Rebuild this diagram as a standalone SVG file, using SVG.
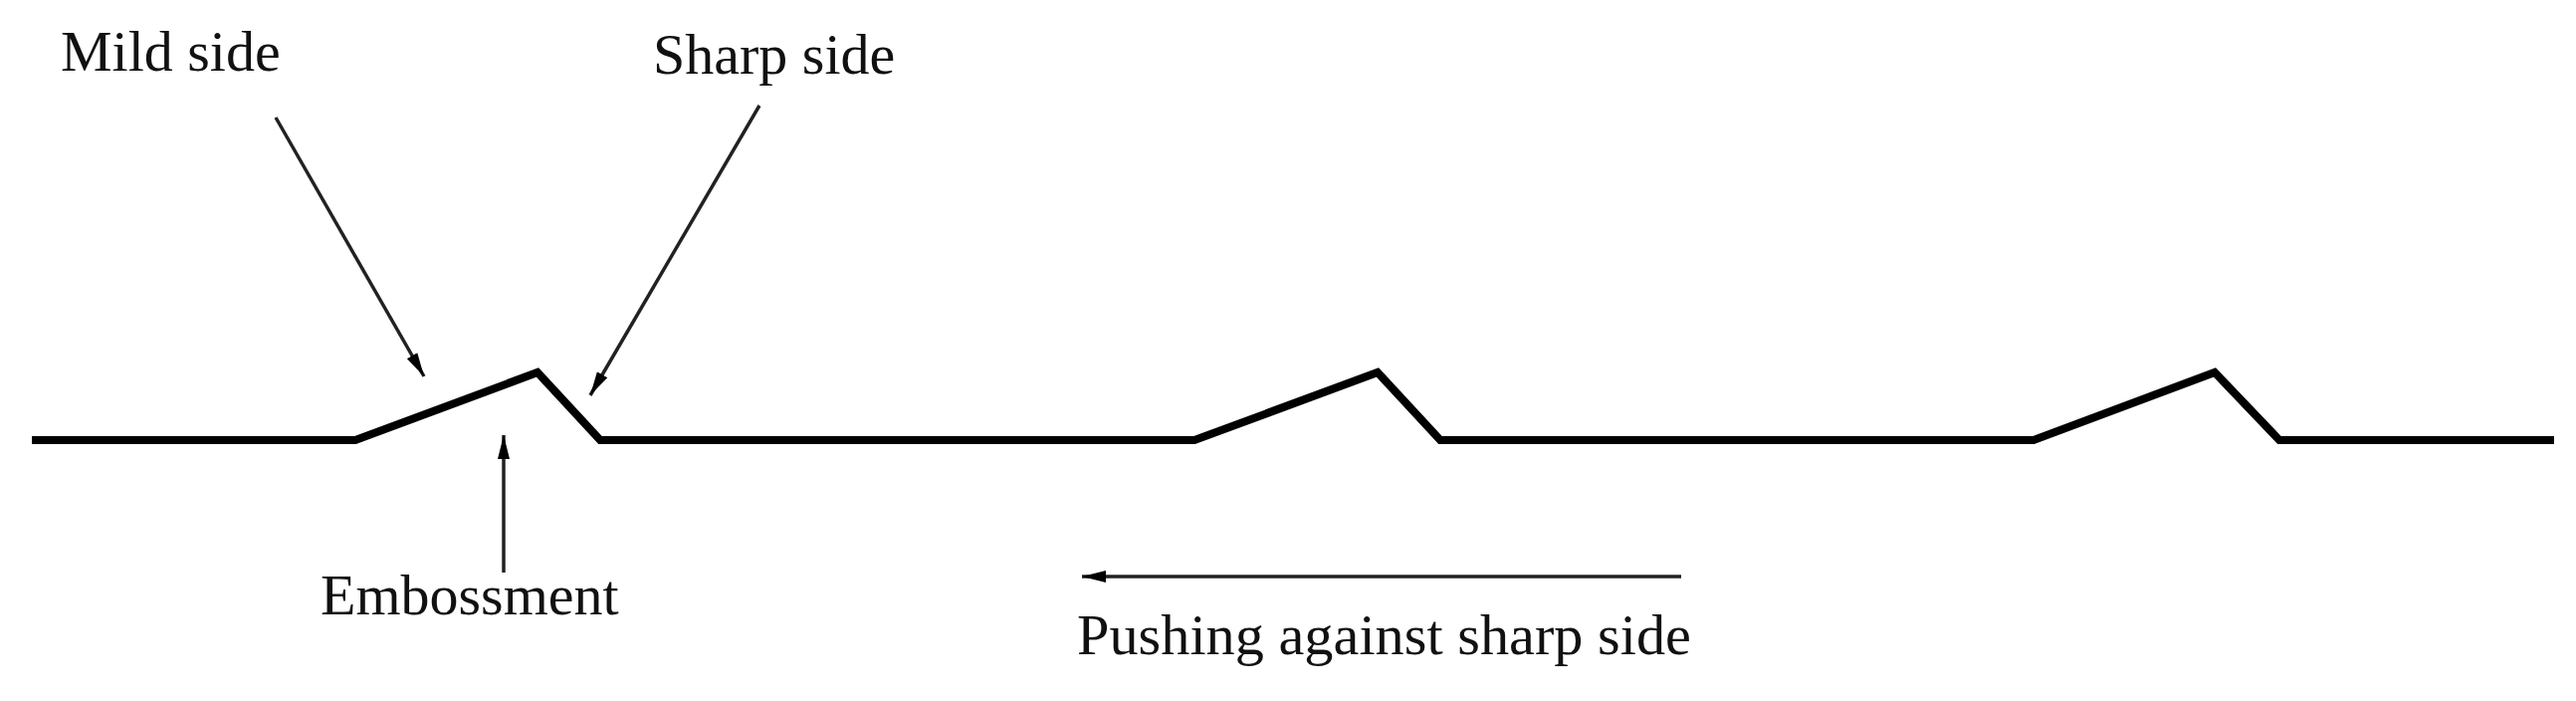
<svg xmlns="http://www.w3.org/2000/svg" width="2588" height="704" viewBox="0 0 2588 704">
<style>
.lbl{font-family:"Liberation Serif","Times New Roman",serif;font-size:58px;fill:#111}
.prof{fill:none;stroke:#000;stroke-width:8;stroke-linejoin:miter}
.ptr{fill:none;stroke:#222;stroke-width:3.5}
</style>
<defs>
<marker id="ah" markerUnits="userSpaceOnUse" markerWidth="26" markerHeight="14" refX="24" refY="7" orient="auto">
<path d="M0,1 L24,7 L0,13 Z" fill="#000"/>
</marker>
</defs>
<rect width="2588" height="704" fill="#fff"/>
<g id="profile">
<path class="prof" d="M32,442 L357,442 L540,374 L603,442 L1200,442 L1384,374 L1447,442 L2043,442 L2225,374 L2290,442 L2566,442"/>
</g>
<g id="connectors">
<line class="ptr" x1="277" y1="118" x2="426" y2="378" marker-end="url(#ah)"/>
<line class="ptr" x1="763" y1="106" x2="593" y2="397" marker-end="url(#ah)"/>
<line class="ptr" x1="506" y1="575" x2="506" y2="437" marker-end="url(#ah)"/>
<line class="ptr" x1="1689" y1="579" x2="1087" y2="579" stroke-width="4.5" marker-end="url(#ah)"/>
</g>
<g id="mild"><text class="lbl" x="61" y="71">Mild side</text></g>
<g id="sharp"><text class="lbl" x="656" y="74">Sharp side</text></g>
<g id="emboss"><text class="lbl" x="322" y="617">Embossment</text></g>
<g id="push"><text class="lbl" x="1082" y="657" textLength="617" lengthAdjust="spacingAndGlyphs">Pushing against sharp side</text></g>
</svg>
